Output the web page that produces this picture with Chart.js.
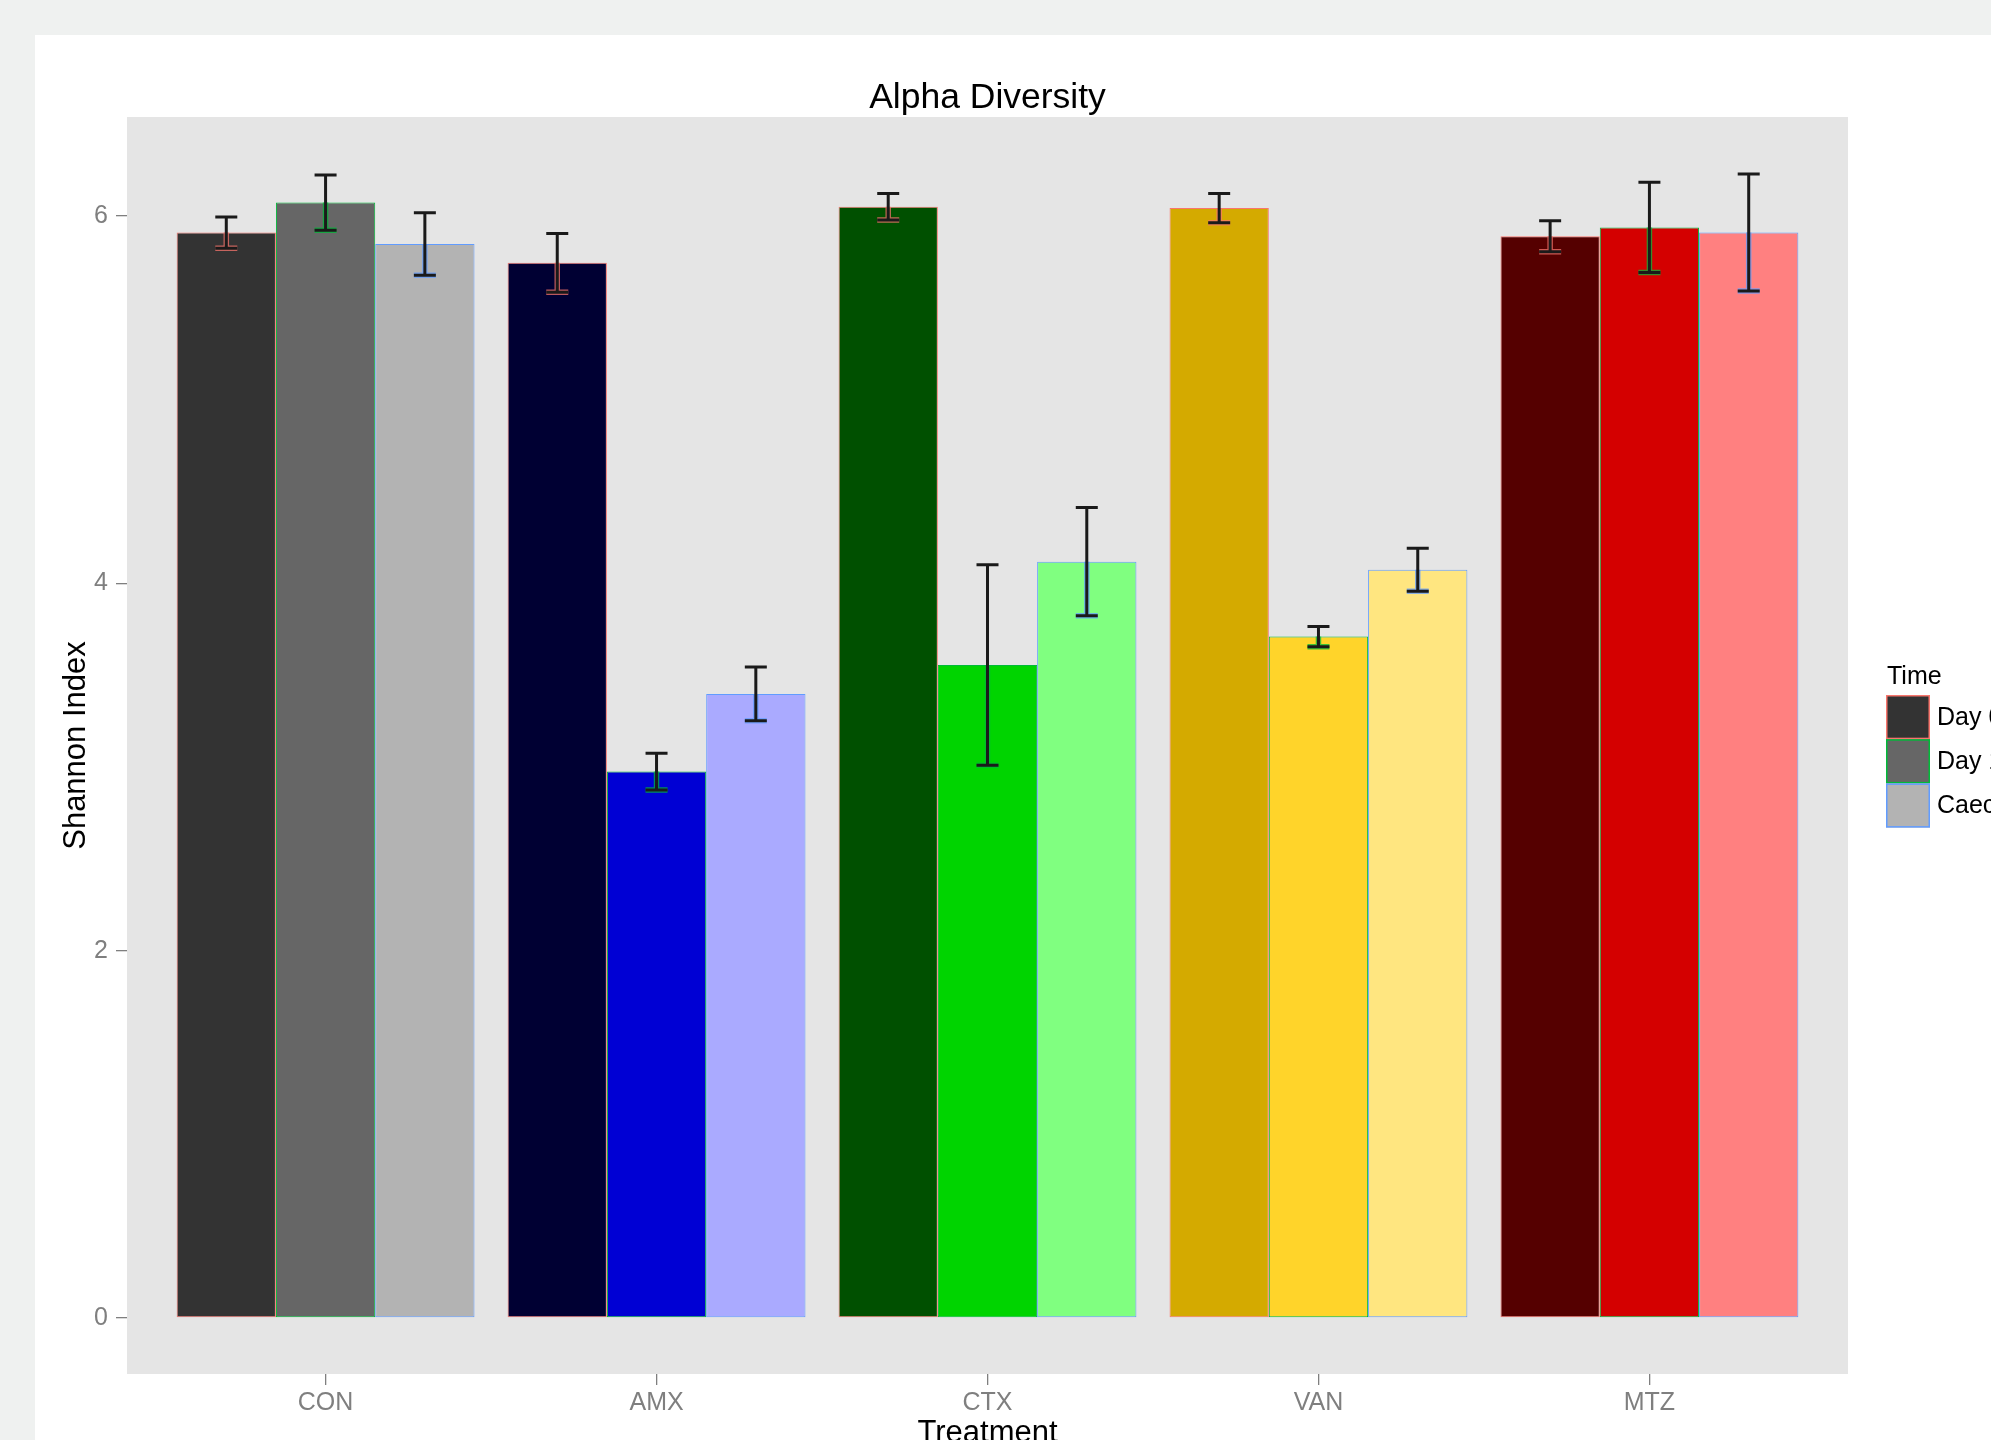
<!DOCTYPE html>
<html>
<head>
<meta charset="utf-8">
<title>Alpha Diversity</title>
<script src="https://cdn.jsdelivr.net/npm/chart.js@4.4.1/dist/chart.umd.min.js"></script>
<style>
  html, body { margin: 0; padding: 0; background: #eff1f0; }
  #wrap { width: 1991px; height: 1440px; }
</style>
</head>
<body>
<div id="wrap"><canvas id="chart" width="1991" height="1440"></canvas></div>
<script>
// Treatments on the x axis and sampling times (one dataset per time)
const categories = ['CON', 'AMX', 'CTX', 'VAN', 'MTZ'];
const times = ['Day 0', 'Day 14', 'Caecum'];

// Mean Shannon index per treatment
const day0 = [5.91, 5.745, 6.05, 6.043, 5.89];
const day14 = [6.073, 2.975, 3.555, 3.71, 5.938];
const caecum = [5.847, 3.398, 4.118, 4.074, 5.91];

// Standard error for each mean
const day0Err = [0.085, 0.16, 0.072, 0.08, 0.084];
const day14Err = [0.15, 0.10, 0.546, 0.055, 0.246];
const caecumErr = [0.17, 0.146, 0.295, 0.117, 0.318];

// Y axis tick values
const yTicks = [0, 2, 4, 6];

// Fill colours: one shade per treatment and time
const day0Fill = ['#333333', '#000033', '#005000', '#d4aa00', '#550000'];
const day14Fill = ['#666666', '#0000d4', '#00d400', '#ffd42a', '#d40000'];
const caecumFill = ['#b3b3b3', '#aaaaff', '#80ff80', '#ffe680', '#ff8080'];
// Outline colour per time
const timeOutline = ['#f8766d', '#00ba38', '#619cff'];
// Legend key fills
const legendFill = ['#333333', '#666666', '#b3b3b3'];

const FONT = "'Liberation Sans', Arial, Helvetica, sans-serif";
const means = [day0, day14, caecum];
const errs = [day0Err, day14Err, caecumErr];
const fills = [day0Fill, day14Fill, caecumFill];

const datasets = times.map((t, k) => ({
  label: t,
  data: means[k].map((v, i) => ({ x: i + 1, y: v })),
  backgroundColor: fills[k],
  borderColor: timeOutline[k],
  borderWidth: 1,
  borderSkipped: false,
  categoryPercentage: 0.9,
  barPercentage: 1.0,
  errors: errs[k]
}));

// Page, white sheet and grey panel behind the plot
const backdrop = {
  id: 'backdrop',
  beforeDraw(chart) {
    const { ctx, chartArea: a } = chart;
    ctx.save();
    ctx.fillStyle = '#eff1f0';
    ctx.fillRect(0, 0, chart.width, chart.height);
    ctx.fillStyle = '#ffffff';
    ctx.fillRect(35, 35, chart.width - 35, chart.height - 35);
    ctx.fillStyle = '#e5e5e5';
    ctx.fillRect(a.left, a.top, a.right - a.left, a.bottom - a.top);
    ctx.restore();
  }
};

// Mean +/- SE whiskers on every bar
const errorBars = {
  id: 'errorBars',
  afterDatasetsDraw(chart) {
    const { ctx } = chart;
    const y = chart.scales.y;
    const cap = 11;
    ctx.save();
    ctx.lineCap = 'butt';
    chart.data.datasets.forEach((ds, k) => {
      const meta = chart.getDatasetMeta(k);
      meta.data.forEach((bar, i) => {
        const m = ds.data[i].y;
        const e = ds.errors[i];
        const yTop = y.getPixelForValue(m + e);
        const yMid = y.getPixelForValue(m);
        const yLow = y.getPixelForValue(m - e);
        const x = bar.x;
        // lower half tinted with the time colour
        ctx.strokeStyle = timeOutline[k];
        ctx.globalAlpha = 0.75;
        ctx.lineWidth = 5.5;
        ctx.beginPath();
        ctx.moveTo(x, yMid); ctx.lineTo(x, yLow);
        ctx.moveTo(x - cap, yLow); ctx.lineTo(x + cap, yLow);
        ctx.stroke();
        ctx.globalAlpha = 1;
        // whisker
        ctx.strokeStyle = '#1a1a1a';
        ctx.lineWidth = 3;
        ctx.beginPath();
        ctx.moveTo(x, yTop); ctx.lineTo(x, yLow);
        ctx.moveTo(x - cap, yTop); ctx.lineTo(x + cap, yTop);
        ctx.moveTo(x - cap, yLow); ctx.lineTo(x + cap, yLow);
        ctx.stroke();
      });
    });
    ctx.restore();
  }
};

// "Time" legend at the right edge of the sheet
const timeLegend = {
  id: 'timeLegend',
  afterDraw(chart) {
    const { ctx } = chart;
    const x0 = 1886, y0 = 695, w = 44, h = 44.2;
    ctx.save();
    ctx.font = '25px ' + FONT;
    ctx.fillStyle = '#000000';
    ctx.textAlign = 'left';
    ctx.textBaseline = 'alphabetic';
    ctx.fillText('Time', 1887, 684);
    times.forEach((t, k) => {
      const ky = y0 + k * h;
      ctx.fillStyle = legendFill[k];
      ctx.fillRect(x0, ky, w, h);
      ctx.strokeStyle = timeOutline[k];
      ctx.lineWidth = 1.5;
      ctx.strokeRect(x0 + 0.75, ky + 0.75, w - 1.5, h - 1.5);
      ctx.fillStyle = '#000000';
      ctx.textBaseline = 'middle';
      ctx.fillText(t, 1937, ky + h / 2 + 1);
    });
    ctx.restore();
  }
};

new Chart(document.getElementById('chart'), {
  type: 'bar',
  data: { datasets },
  plugins: [backdrop, errorBars, timeLegend],
  options: {
    responsive: false,
    animation: false,
    devicePixelRatio: 1,
    layout: { padding: { left: 0, top: 0, right: 143, bottom: 0 } },
    plugins: {
      legend: { display: false },
      tooltip: { enabled: false },
      title: {
        display: true,
        text: 'Alpha Diversity',
        fullSize: false,
        color: '#000000',
        font: { family: FONT, size: 35.5, weight: 'normal', lineHeight: 1.2 },
        padding: { top: 76.5, bottom: -2.1 }
      }
    },
    scales: {
      x: {
        type: 'linear',
        min: 0.4,
        max: 5.6,
        offset: false,
        afterFit(scale) { scale.height = 66; },
        afterBuildTicks(scale) {
          scale.ticks = categories.map((c, i) => ({ value: i + 1 }));
        },
        border: { display: false },
        grid: {
          display: true,
          offset: false,
          drawOnChartArea: false,
          drawTicks: true,
          tickLength: 11,
          tickColor: '#7f7f7f',
          lineWidth: 1.3
        },
        ticks: {
          autoSkip: false,
          maxRotation: 0,
          padding: 3.3,
          color: '#7f7f7f',
          font: { family: FONT, size: 25 },
          callback: (v) => categories[Math.round(v) - 1]
        },
        title: {
          display: true,
          text: 'Treatment',
          color: '#000000',
          font: { family: FONT, size: 31, lineHeight: 1.2 },
          padding: { top: 0, bottom: -11.9 }
        }
      },
      y: {
        min: -0.305,
        max: 6.539,
        afterFit(scale) { scale.width = 127; },
        afterBuildTicks(scale) {
          scale.ticks = yTicks.map(v => ({ value: v }));
        },
        border: { display: false },
        grid: {
          display: true,
          drawOnChartArea: false,
          drawTicks: true,
          tickLength: 11,
          tickColor: '#7f7f7f',
          lineWidth: 1.3
        },
        ticks: {
          padding: 8,
          color: '#7f7f7f',
          font: { family: FONT, size: 25 },
          callback: (v) => String(v)
        },
        title: {
          display: true,
          text: 'Shannon Index',
          color: '#000000',
          font: { family: FONT, size: 31, lineHeight: 1.2 },
          padding: { top: 57.7, bottom: 0 }
        }
      }
    }
  }
});
</script>
</body>
</html>
